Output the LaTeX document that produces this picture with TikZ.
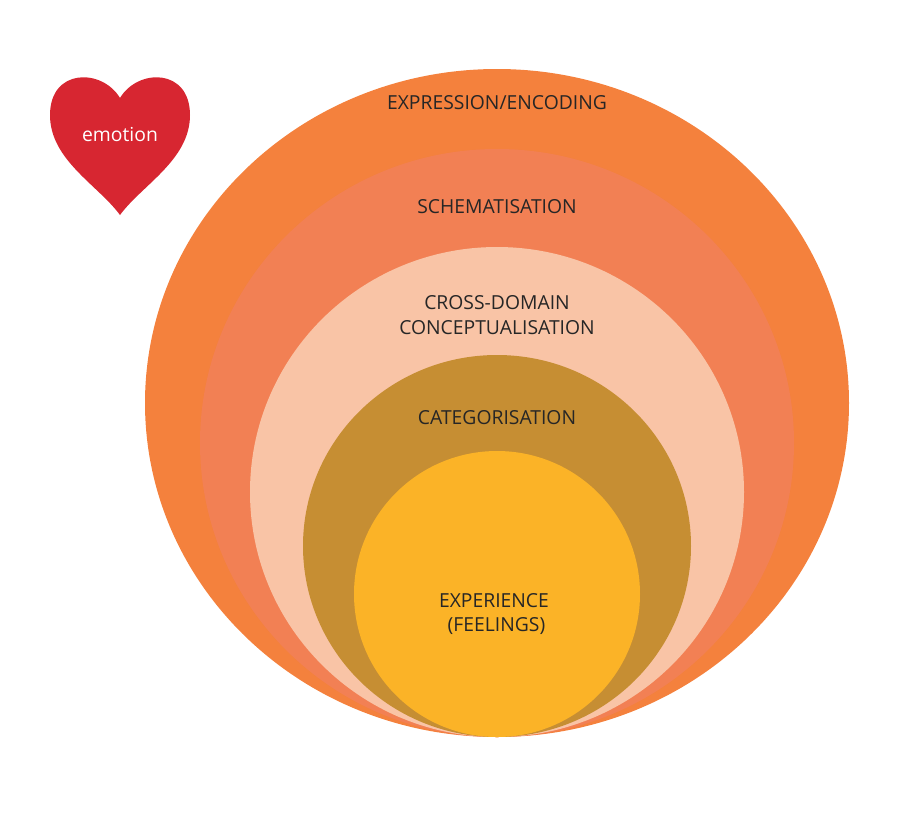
\documentclass[tikz,border=0pt]{standalone}
\usepackage{fontspec}
\setmainfont{Open Sans}
\definecolor{ringA}{HTML}{F4813D}
\definecolor{ringB}{HTML}{F28054}
\definecolor{ringC}{HTML}{F9C4A6}
\definecolor{ringD}{HTML}{C68E33}
\definecolor{ringE}{HTML}{FBB327}
\definecolor{heart}{HTML}{D72631}
\tikzset{
  lbl/.style={font=\fontsize{11}{14}\selectfont, text=black!85, align=center},
}
\begin{document}
\begin{tikzpicture}[x=0.02cm,y=-0.02cm]
    \useasboundingbox (0,0) rectangle (900,836);
    % nested rings, all touching at the bottom
    \fill[ringA] (497,403) ellipse [x radius=352, y radius=334];
    \fill[ringB] (497,443) ellipse [x radius=297, y radius=294];
    \fill[ringC] (497,492) ellipse [x radius=247, y radius=245];
    \fill[ringD] (497,546) ellipse [x radius=194, y radius=191];
    \fill[ringE] (497,594) ellipse [x radius=143, y radius=143];

    \node[lbl] (expr) at (497,103) {EXPRESSION/ENCODING};
    \node[lbl] (schem) at (497,207) {SCHEMATISATION};
    \node[lbl] (cross) at (497,315) {CROSS-DOMAIN\\CONCEPTUALISATION};
    \node[lbl] (categ) at (497,418) {CATEGORISATION};
    \node[lbl] (exper) at (494,614) {EXPERIENCE\\\ (FEELINGS)};

    % heart
    \fill[heart] (120,98) .. controls (138,68) and (190,68) .. (190,115)
        .. controls (190,160) and (142,185) .. (120,215)
        .. controls (98,185) and (50,160) .. (50,115)
        .. controls (50,68) and (102,68) .. (120,98) -- cycle;
    \node[lbl, text=white] (emo) at (120,134) {emotion};
\end{tikzpicture}
\end{document}
